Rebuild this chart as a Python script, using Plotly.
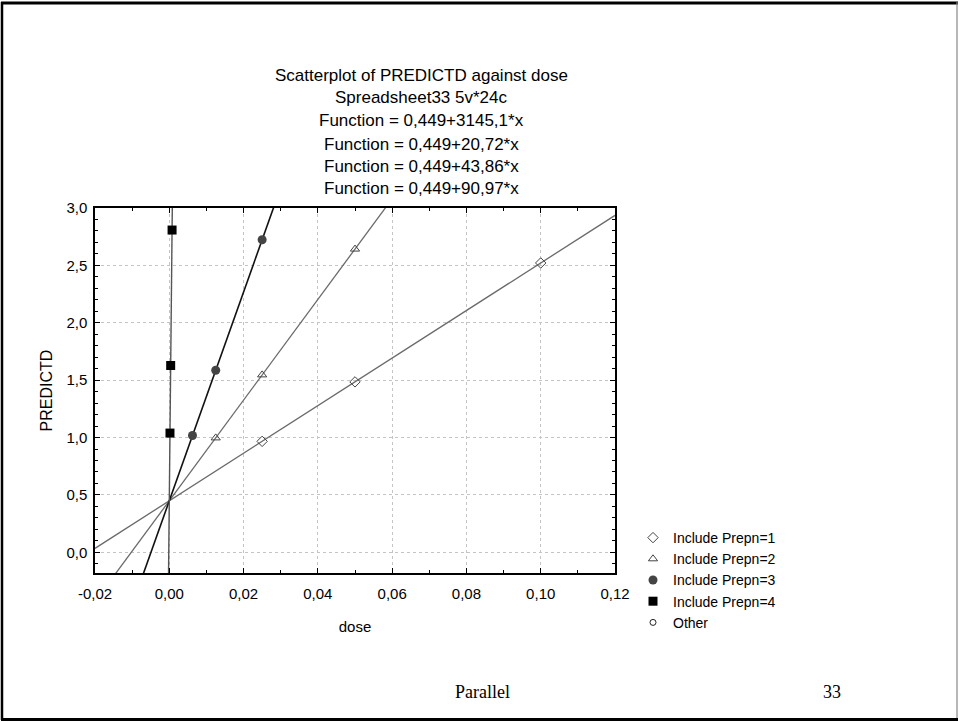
import numpy as np
import plotly.graph_objects as go

# ---------------- data ----------------
intercept = 0.449
slopes = [20.72, 43.86, 90.97, 3145.1]            # Prepn 1..4
title_slopes = ["3145,1", "20,72", "43,86", "90,97"]
series_names = ["Include Prepn=1", "Include Prepn=2", "Include Prepn=3", "Include Prepn=4"]

dose_p1 = [0.025, 0.05, 0.1]
pred_p1 = [0.967, 1.485, 2.521]
dose_p2 = [0.0125, 0.025, 0.05]
pred_p2 = [0.997, 1.546, 2.642]
dose_p3 = [0.00625, 0.0125, 0.025]
pred_p3 = [1.018, 1.586, 2.723]
dose_p4 = [0.0001875, 0.000375, 0.00075]
pred_p4 = [1.039, 1.628, 2.808]

x_ticks = [-0.02, 0.0, 0.02, 0.04, 0.06, 0.08, 0.10, 0.12]
x_tick_labels = ["-0,02", "0,00", "0,02", "0,04", "0,06", "0,08", "0,10", "0,12"]
y_ticks = [0.0, 0.5, 1.0, 1.5, 2.0, 2.5, 3.0]
y_tick_labels = ["0,0", "0,5", "1,0", "1,5", "2,0", "2,5", "3,0"]

# ---------------- layout geometry ----------------
W, H = 959, 722
L, R, T, B = 95, 615, 208, 573
def px(x):
    return (x - L) / (R - L)
def py(y):
    return (B - y) / (B - T)

FONT = "Liberation Sans, Arial, sans-serif"
SERIF = "Liberation Serif, Times New Roman, serif"
fig = go.Figure()

# fitted lines
line_colors = ["#6a6a6a", "#6a6a6a", "#111111", "#555555"]
line_widths = [1.3, 1.3, 1.6, 1.4]
for s, c, w in zip(slopes, line_colors, line_widths):
    if s > 1000:
        xs = np.array([(-0.18 - intercept) / s, (3.0 - intercept) / s])
    else:
        xs = np.array([-0.02, 0.12])
    fig.add_trace(go.Scatter(x=xs, y=intercept + s * xs, mode="lines",
                             line=dict(color=c, width=w), showlegend=False,
                             hoverinfo="skip"))

marker_styles = [
    dict(symbol="diamond-open", size=8, color="#444444", line=dict(width=1, color="#444444")),
    dict(symbol="triangle-up-open", size=8, color="#444444", line=dict(width=1, color="#444444")),
    dict(symbol="circle", size=9, color="#444444"),
    dict(symbol="square", size=9, color="#000000"),
]
xs_all = [dose_p1, dose_p2, dose_p3, dose_p4]
ys_all = [pred_p1, pred_p2, pred_p3, pred_p4]
for name, xs, ys, m in zip(series_names, xs_all, ys_all, marker_styles):
    fig.add_trace(go.Scatter(x=xs, y=ys, mode="markers", name=name, marker=m))
fig.add_trace(go.Scatter(x=[None], y=[None], mode="markers", name="Other",
                         marker=dict(symbol="circle-open", size=6, color="#222222",
                                     line=dict(width=1, color="#222222"))))

# title lines
title_lines = ["Scatterplot of PREDICTD against dose", "Spreadsheet33 5v*24c"] + \
    ["Function = 0,449+%s*x" % s for s in title_slopes]
title_pos = [76, 98, 121, 144, 166, 188]
annotations = []
for txt, yy in zip(title_lines, title_pos):
    annotations.append(dict(text=txt, x=px(421), y=py(yy), xref="paper", yref="paper",
                            showarrow=False, xanchor="center", yanchor="middle",
                            font=dict(family=FONT, size=17, color="black")))
# footer
annotations.append(dict(text="Parallel", x=px(482), y=py(692), xref="paper", yref="paper",
                        showarrow=False, xanchor="center", yanchor="middle",
                        font=dict(family=SERIF, size=18, color="black")))
annotations.append(dict(text="33", x=px(832), y=py(692), xref="paper", yref="paper",
                        showarrow=False, xanchor="center", yanchor="middle",
                        font=dict(family=SERIF, size=18, color="black")))

shapes = [
    dict(type="line", xref="paper", yref="paper", x0=px(1), x1=px(958), y0=py(3), y1=py(3),
         line=dict(color="black", width=3)),
    dict(type="line", xref="paper", yref="paper", x0=px(2), x1=px(2), y0=py(2), y1=py(720),
         line=dict(color="black", width=2.5)),
    dict(type="line", xref="paper", yref="paper", x0=px(957), x1=px(957), y0=py(2), y1=py(720),
         line=dict(color="#888888", width=1.2)),
    dict(type="line", xref="paper", yref="paper", x0=px(1), x1=px(958), y0=py(719.5), y1=py(719.5),
         line=dict(color="black", width=3)),
]

axis_common = dict(showline=True, linecolor="black", linewidth=1.5, mirror="ticks",
                   ticks="inside", ticklen=5, tickcolor="black", tickwidth=1,
                   showgrid=True, gridcolor="#c4c4c4", griddash="dot", gridwidth=1,
                   zeroline=False, tickfont=dict(family=FONT, size=15, color="black"))

fig.update_layout(
    width=W, height=H,
    margin=dict(l=L, r=W - R, t=T, b=H - B),
    paper_bgcolor="white", plot_bgcolor="white",
    font=dict(family=FONT, size=15, color="black"),
    xaxis=dict(range=[-0.02, 0.12], tickvals=x_ticks, ticktext=x_tick_labels,
               ticklabelstandoff=6,
               title=dict(text="dose", font=dict(family=FONT, size=15), standoff=21),
               minor=dict(ticks="inside", ticklen=3, tickcolor="black", dtick=0.01, showgrid=False),
               **axis_common),
    yaxis=dict(range=[-0.18, 3.0], tickvals=y_ticks, ticktext=y_tick_labels,
               ticklabelstandoff=3,
               title=dict(text="PREDICTD", font=dict(family=FONT, size=16), standoff=10),
               minor=dict(ticks="inside", ticklen=3, tickcolor="black", dtick=0.1, tick0=0, showgrid=False),
               **axis_common),
    legend=dict(x=px(633), y=py(522), xanchor="left", yanchor="top",
                font=dict(family=FONT, size=14, color="black"),
                bgcolor="rgba(0,0,0,0)", itemsizing="trace", tracegroupgap=0),
    annotations=annotations,
    shapes=shapes,
    showlegend=True,
)

fig.write_html("out.html")
